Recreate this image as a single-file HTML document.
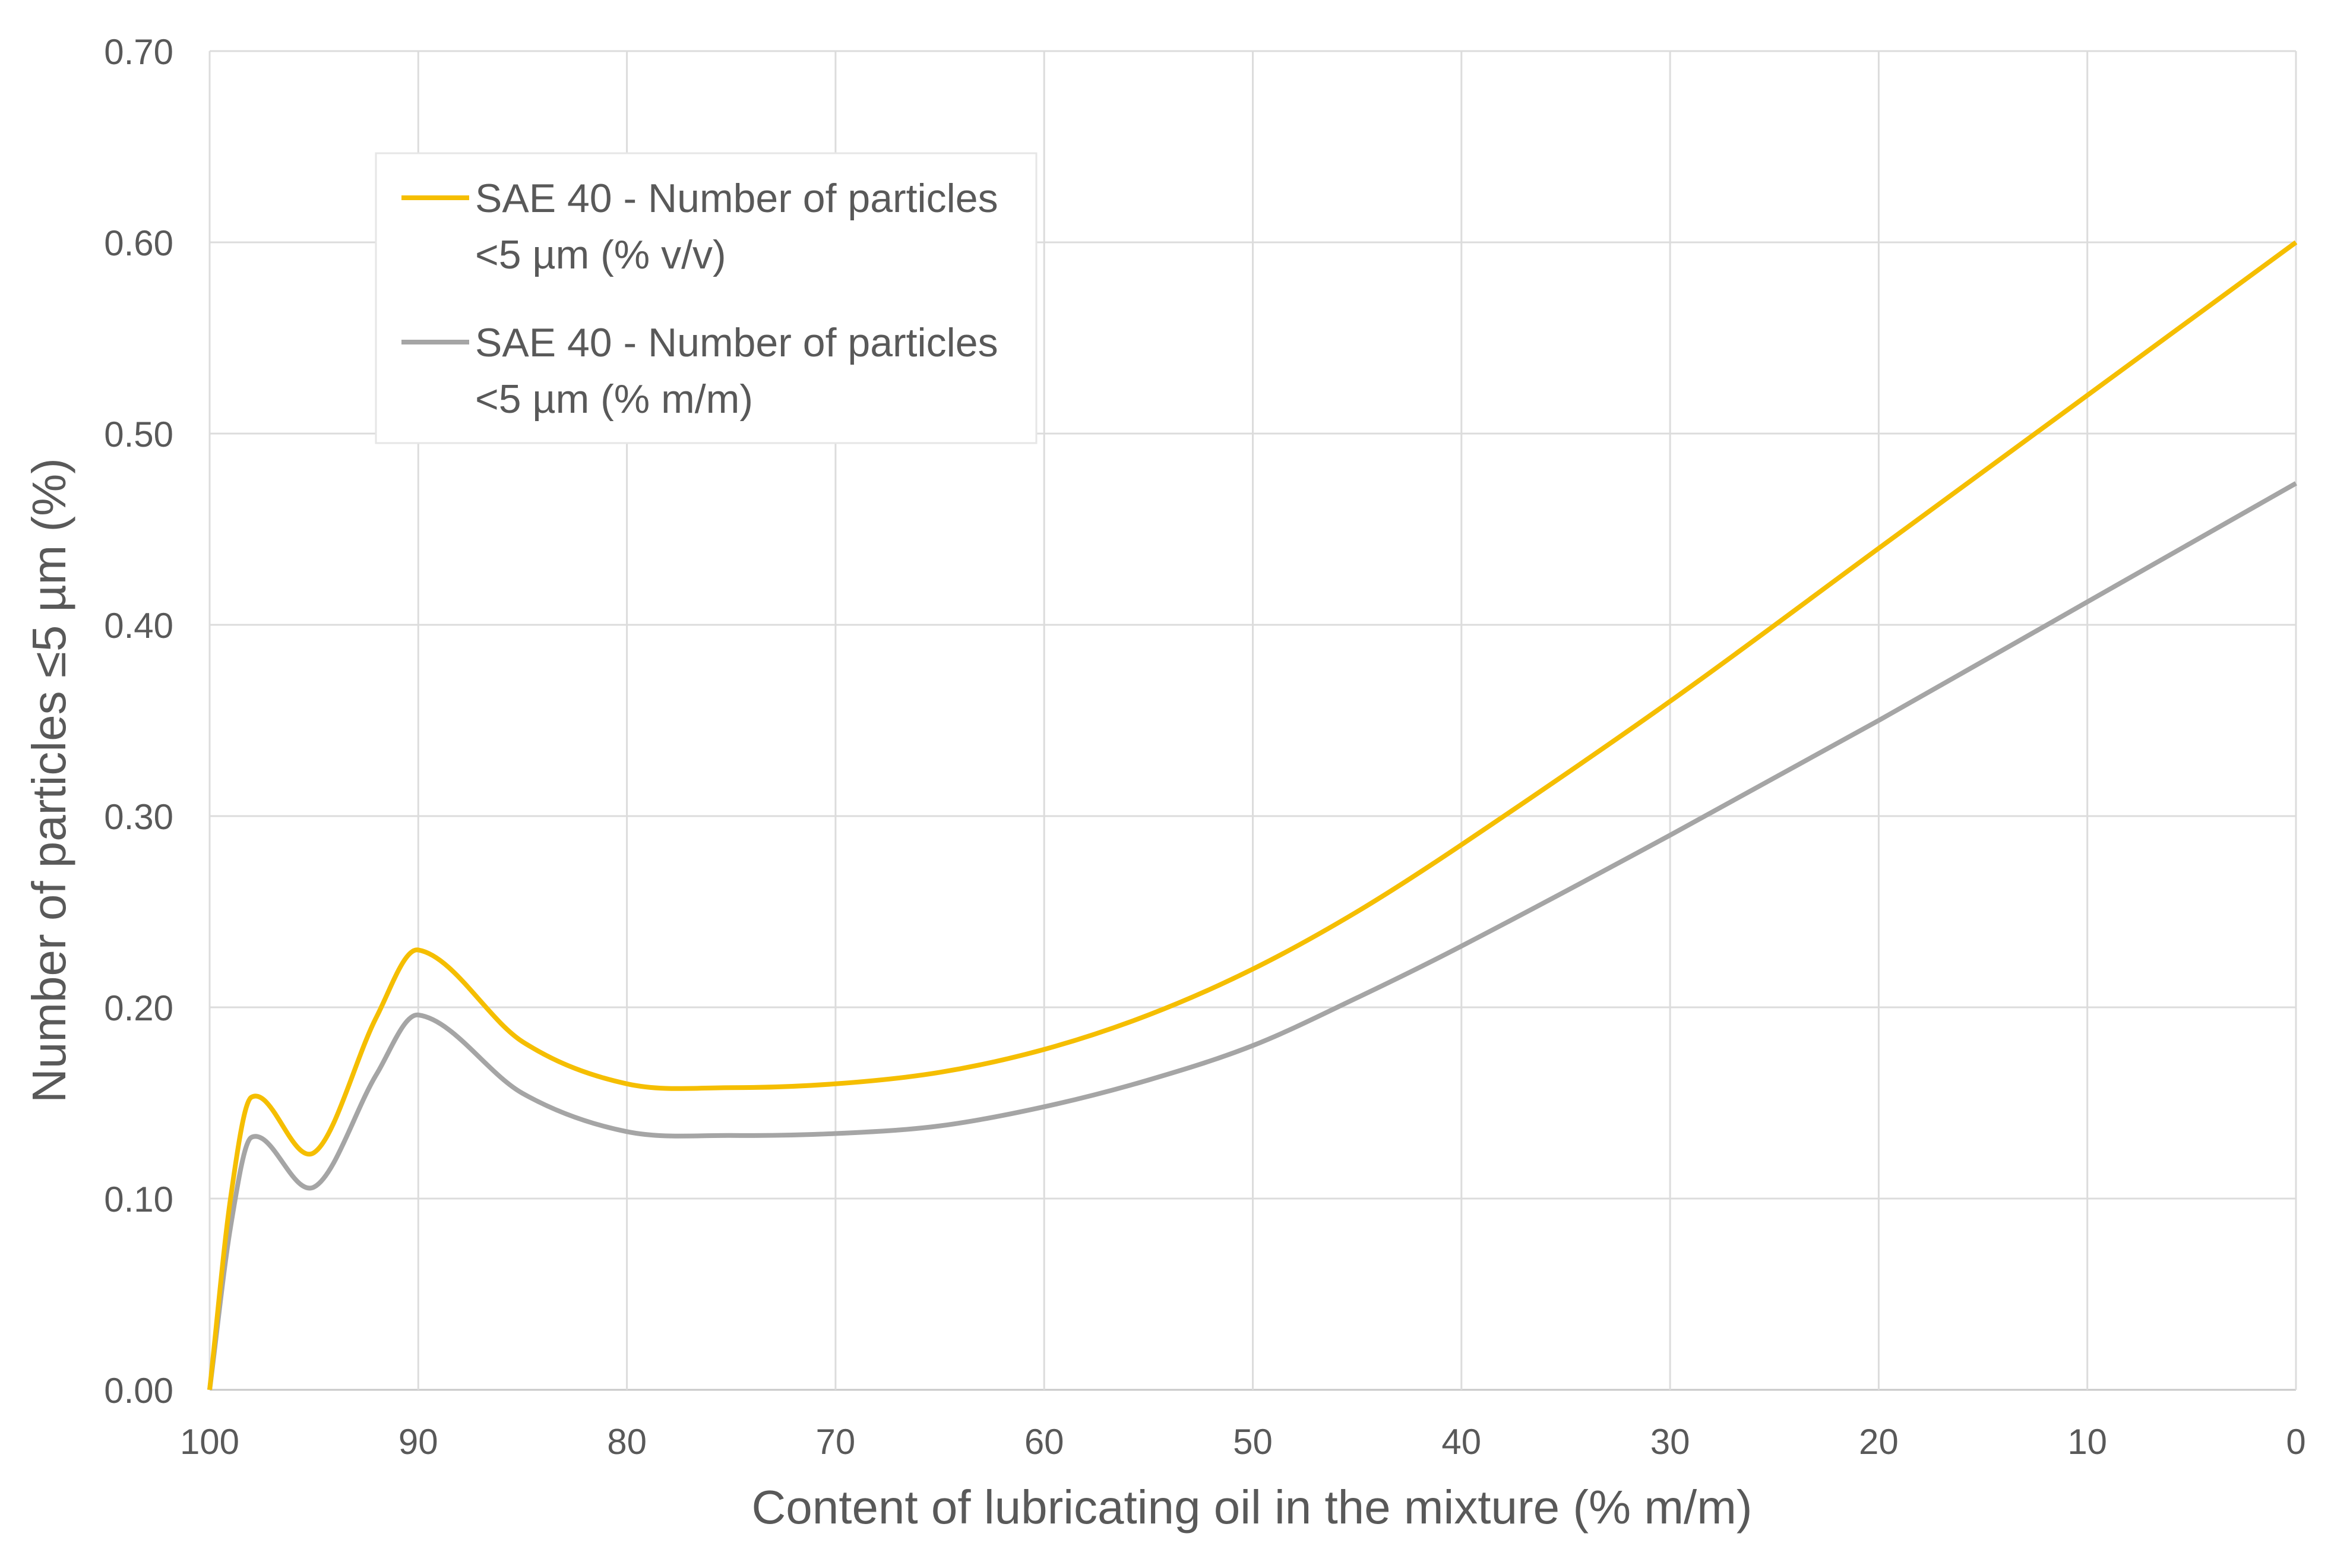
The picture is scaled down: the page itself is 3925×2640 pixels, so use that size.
<!DOCTYPE html>
<html><head><meta charset="utf-8"><style>
body{margin:0;background:#fff}
svg text{font-family:"Liberation Sans",sans-serif;fill:#595959}
</style></head><body>
<svg id="chart" width="3925" height="2635" xmlns="http://www.w3.org/2000/svg">
<g id="grid"></g>
<g id="series"></g>
<g id="ticks"></g>
<text x="2108" y="2565" font-size="80" text-anchor="middle">Content of lubricating oil in the mixture (% m/m)</text>
<text transform="translate(110,1314) rotate(-90)" font-size="80" text-anchor="middle">Number of particles ≤5 µm (%)</text>
<g>
<rect x="633" y="258" width="1112" height="488" fill="#fff" stroke="#e6e6e6" stroke-width="3"/>
<line x1="676" y1="333" x2="790" y2="333" stroke="#F5BE00" stroke-width="8"/>
<text font-size="68"><tspan x="800" y="357">SAE 40 - Number of particles</tspan><tspan x="800" y="452">&lt;5 µm (% v/v)</tspan></text>
<line x1="676" y1="576" x2="790" y2="576" stroke="#A5A5A5" stroke-width="8"/>
<text font-size="68"><tspan x="800" y="600">SAE 40 - Number of particles</tspan><tspan x="800" y="695">&lt;5 µm (% m/m)</tspan></text>
</g>
</svg>
<script>
const xTicks=[100,90,80,70,60,50,40,30,20,10,0];
const yTicks=[0,0.1,0.2,0.3,0.4,0.5,0.6,0.7];
const xVals=[100,99,98,95,92,90,85,80,75,70,65,60,55,50,45,40,30,20,10,0];
const vvVals=[0,0.10,0.153,0.124,0.195,0.23,0.182,0.16,0.158,0.16,0.166,0.178,0.196,0.22,0.25,0.285,0.36,0.44,0.52,0.6];
const mmVals=[0,0.085,0.132,0.106,0.165,0.196,0.155,0.135,0.133,0.134,0.138,0.148,0.162,0.18,0.205,0.232,0.29,0.35,0.412,0.474];
const L=353,R=3866,B=2340,T=86;
const sx=v=>L+(100-v)/100*(R-L);
const sy=v=>B-v/0.7*(B-T);
const NS="http://www.w3.org/2000/svg";
const grid=document.getElementById('grid'),ticks=document.getElementById('ticks'),ser=document.getElementById('series');
function mk(tag,attrs,parent){const e=document.createElementNS(NS,tag);for(const k in attrs)e.setAttribute(k,attrs[k]);parent.appendChild(e);return e;}
yTicks.forEach(v=>{
 const l=mk('line',{x1:L,x2:R,y1:sy(v),y2:sy(v),stroke:v===0?'#c8c8c8':'#dcdcdc','stroke-width':3},grid);
 
 
 const t=mk('text',{x:292,y:sy(v)+22,'font-size':60,'text-anchor':'end'},ticks);
 t.textContent=v.toFixed(2);
 
 
});
xTicks.forEach(v=>{
 const l=mk('line',{x1:sx(v),x2:sx(v),y1:T,y2:B,stroke:'#dcdcdc','stroke-width':3},grid);
 
 
 const t=mk('text',{x:sx(v),y:2448,'font-size':60,'text-anchor':'middle'},ticks);
 t.textContent=v;
 
 
});
function pathFor(vals){
 const p=xVals.map((x,i)=>[sx(x),sy(vals[i])]);
 let d='M'+p[0][0]+','+p[0][1];
 for(let i=0;i<p.length-1;i++){
  const p0=p[Math.max(0,i-1)],p1=p[i],p2=p[i+1],p3=p[Math.min(p.length-1,i+2)];
  const h=p2[0]-p1[0];
  const m1=(p2[1]-p0[1])/(p2[0]-p0[0]||1), m2=(p3[1]-p1[1])/(p3[0]-p1[0]||1);
  const c1=[p1[0]+h/3,p1[1]+m1*h/3];
  const c2=[p2[0]-h/3,p2[1]-m2*h/3];
  d+=' C'+c1+' '+c2+' '+p2;
 }
 return d;
}
const g=mk('path',{d:pathFor(mmVals),fill:'none',stroke:'#A5A5A5','stroke-width':8,'stroke-linejoin':'round'},ser);


const y=mk('path',{d:pathFor(vvVals),fill:'none',stroke:'#F5BE00','stroke-width':8,'stroke-linejoin':'round'},ser);


</script>
</body></html>
